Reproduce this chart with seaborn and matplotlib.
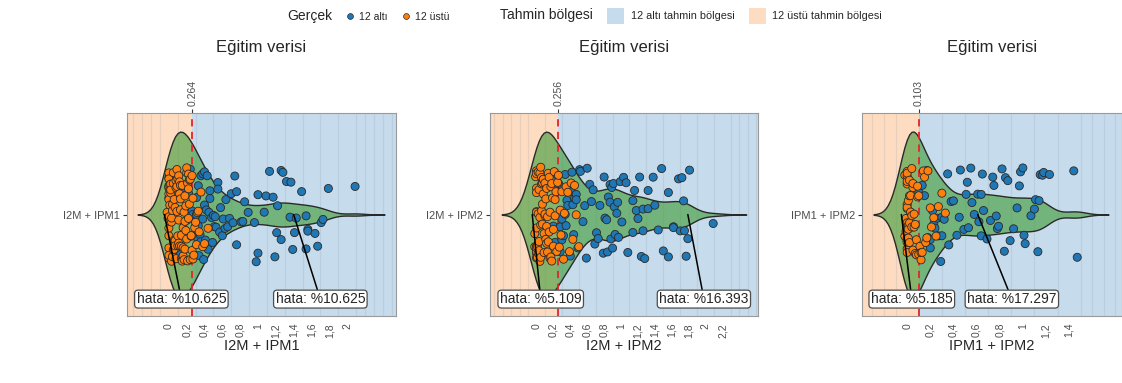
import numpy as np
import pandas as pd
import matplotlib
matplotlib.use("Agg")
import matplotlib.pyplot as plt
import seaborn as sns
from matplotlib.lines import Line2D
from matplotlib.patches import Patch
from matplotlib.ticker import MultipleLocator

sns.set_style("white")
plt.rcParams["font.family"] = ["Liberation Sans", "DejaVu Sans"]

# ---- data -------------------------------------------------------------
features = ["I2M + IPM1", "I2M + IPM2", "IPM1 + IPM2"]
thresholds = [0.264, 0.256, 0.103]
error_left = ["%10.625", "%5.109", "%5.185"]
error_right = ["%10.625", "%16.393", "%17.297"]

blue_1 = [0.13, 0.17, 0.2, 0.22, 0.24, 0.26, 0.27, 0.29, 0.3, 0.31, 0.31, 0.33, 0.33,
          0.34, 0.35, 0.36, 0.36, 0.38, 0.38, 0.39, 0.4, 0.4, 0.41, 0.42, 0.43, 0.44,
          0.45, 0.46, 0.46, 0.48, 0.49, 0.5, 0.51, 0.52, 0.53, 0.55, 0.55, 0.57, 0.58,
          0.6, 0.61, 0.63, 0.64, 0.66, 0.68, 0.7, 0.72, 0.74, 0.76, 0.76, 0.81, 0.83,
          0.85, 0.89, 0.96, 0.98, 1.0, 1.0, 1.07, 1.09, 1.13, 1.17, 1.19, 1.21, 1.22,
          1.26, 1.26, 1.28, 1.32, 1.36, 1.37, 1.39, 1.41, 1.43, 1.49, 1.54, 1.54, 1.56,
          1.56, 1.64, 1.67, 1.71, 1.73, 1.79, 2.09]
orange_1 = [-0.02, -0.01, 0, 0, 0, 0, 0, 0, 0, 0, 0, 0, 0, 0, 0, 0, 0, 0.01, 0.01,
            0.01, 0.02, 0.02, 0.02, 0.03, 0.03, 0.03, 0.04, 0.04, 0.04, 0.05, 0.05,
            0.05, 0.06, 0.06, 0.06, 0.07, 0.07, 0.07, 0.08, 0.08, 0.08, 0.09, 0.09,
            0.09, 0.1, 0.1, 0.1, 0.11, 0.11, 0.11, 0.12, 0.12, 0.12, 0.13, 0.13, 0.13,
            0.14, 0.14, 0.14, 0.15, 0.15, 0.15, 0.16, 0.16, 0.16, 0.17, 0.17, 0.18,
            0.18, 0.18, 0.19, 0.19, 0.2, 0.2, 0.2, 0.21, 0.21, 0.22, 0.22, 0.22, 0.23,
            0.23, 0.24, 0.24, 0.25, 0.25, 0.26, 0.26, 0.27, 0.27, 0.28, 0.29, 0.3,
            0.31, 0.32, 0.33, 0.34, 0.36, 0.38, 0.4, 0.44]

blue_2 = [0.2, 0.22, 0.24, 0.26, 0.28, 0.28, 0.3, 0.3, 0.32, 0.34, 0.34, 0.35, 0.36,
          0.37, 0.38, 0.4, 0.41, 0.42, 0.43, 0.44, 0.45, 0.47, 0.47, 0.49, 0.51, 0.52,
          0.55, 0.57, 0.59, 0.6, 0.63, 0.65, 0.67, 0.69, 0.71, 0.73, 0.75, 0.79, 0.8,
          0.81, 0.83, 0.84, 0.85, 0.87, 0.87, 0.88, 0.89, 0.9, 0.91, 0.92, 0.93, 0.95,
          0.96, 0.97, 0.99, 1.01, 1.03, 1.06, 1.08, 1.14, 1.14, 1.16, 1.18, 1.2, 1.22,
          1.24, 1.26, 1.26, 1.28, 1.32, 1.32, 1.38, 1.4, 1.44, 1.48, 1.5, 1.56, 1.56,
          1.62, 1.62, 1.68, 1.7, 1.72, 1.74, 1.75, 1.77, 1.79, 1.81, 2.09]
orange_2 = [-0.02, -0.02, -0.01, 0, 0, 0, 0, 0, 0, 0, 0, 0, 0, 0, 0, 0, 0.01, 0.01,
            0.01, 0.02, 0.02, 0.02, 0.03, 0.03, 0.03, 0.04, 0.04, 0.04, 0.05, 0.05,
            0.05, 0.06, 0.06, 0.06, 0.07, 0.07, 0.07, 0.08, 0.08, 0.08, 0.09, 0.09,
            0.1, 0.1, 0.1, 0.11, 0.11, 0.12, 0.12, 0.12, 0.13, 0.13, 0.14, 0.14, 0.15,
            0.15, 0.16, 0.16, 0.17, 0.17, 0.18, 0.18, 0.19, 0.2, 0.2, 0.21, 0.22,
            0.22, 0.23, 0.24, 0.25, 0.26, 0.27, 0.28, 0.29, 0.3, 0.32, 0.33, 0.35,
            0.37, 0.39, 0.41, 0.43, 0.45, 0.47, 0.5]

blue_3 = [0.1, 0.13, 0.15, 0.17, 0.18, 0.2, 0.2, 0.22, 0.23, 0.24, 0.26, 0.27, 0.29,
          0.3, 0.3, 0.32, 0.35, 0.36, 0.38, 0.4, 0.43, 0.45, 0.46, 0.49, 0.51, 0.52,
          0.53, 0.55, 0.56, 0.58, 0.61, 0.62, 0.64, 0.64, 0.65, 0.66, 0.69, 0.72, 0.74,
          0.75, 0.77, 0.78, 0.79, 0.82, 0.84, 0.85, 0.87, 0.89, 0.92, 0.95, 0.97, 0.98,
          1.0, 1.01, 1.02, 1.07, 1.1, 1.11, 1.13, 1.14, 1.15, 1.17, 1.18, 1.23, 1.44,
          1.47]
orange_3 = [-0.02, -0.02, -0.01, -0.01, 0, 0, 0, 0, 0, 0, 0, 0, 0, 0, 0, 0, 0, 0, 0,
            0, 0, 0, 0.01, 0.01, 0.01, 0.01, 0.02, 0.02, 0.02, 0.02, 0.03, 0.03, 0.03,
            0.04, 0.04, 0.04, 0.05, 0.05, 0.05, 0.06, 0.06, 0.07, 0.07, 0.08, 0.08,
            0.09, 0.09, 0.1, 0.1, 0.11, 0.12, 0.12, 0.13, 0.14, 0.15, 0.16, 0.17,
            0.18, 0.2, 0.21, 0.23, 0.25, 0.27, 0.3, 0.33]

xticks_1 = [0, 0.2, 0.4, 0.6, 0.8, 1, 1.2, 1.4, 1.6, 1.8, 2]
xticks_2 = [0, 0.2, 0.4, 0.6, 0.8, 1, 1.2, 1.4, 1.6, 1.8, 2, 2.2]
xticks_3 = [0, 0.2, 0.4, 0.6, 0.8, 1, 1.2, 1.4]

blues = [blue_1, blue_2, blue_3]
oranges = [orange_1, orange_2, orange_3]
xticks = [xticks_1, xticks_2, xticks_3]

# ---- styling / layout -------------------------------------------------
BLUE = "#1F77B4"
ORANGE = "#FF7F0E"
BG_BLUE = "#C6DBEC"
BG_PEACH = "#FDDCC2"
GREEN = (72 / 255, 160 / 255, 66 / 255)

panel_rects = [(0.1132, 0.1749, 0.2398, 0.530),
               (0.4367, 0.1749, 0.2389, 0.530),
               (0.7683, 0.1749, 0.2317, 0.530)]
xlims = [(-0.47, 2.55), (-0.55, 2.62), (-0.39, 1.857)]
kde_bw = [0.11, 0.13, 0.09]
# (anchor x on violin, label x) for the left and right error labels
label_pos = [((-0.05, 0.14), (1.40, 1.70)),
             ((-0.05, 0.05), (1.79, 1.98)),
             ((-0.05, 0.04), (0.61, 0.905))]


def comma(v):
    return f"{v:g}".replace(".", ",")


def title_to_left(leg):
    box = leg._legend_box
    title_box, cols = box.get_children()
    box._children = [cols]
    cols._children = [title_box] + cols.get_children()


fig = plt.figure(figsize=(11.22, 3.83), dpi=100)
np.random.seed(7)

for i in range(3):
    blue, orange = blues[i], oranges[i]
    thr = thresholds[i]
    feat = features[i]
    df = pd.DataFrame({
        "value": blue + orange,
        "Gerçek": ["12 altı"] * len(blue) + ["12 üstü"] * len(orange),
        "feature": feat,
    })
    ax = fig.add_axes(panel_rects[i])
    lo, hi = xlims[i]

    # prediction regions
    ax.axvspan(lo, thr, color=BG_PEACH, lw=0, zorder=0)
    ax.axvspan(thr, hi, color=BG_BLUE, lw=0, zorder=0)

    # density of all observations
    allx = np.asarray(df["value"], dtype=float)
    sns.violinplot(data=df, x="value", y="feature", orient="h", ax=ax,
                   color=GREEN, saturation=1, inner=None, cut=3,
                   bw_method=kde_bw[i] / np.std(allx, ddof=1), width=0.98,
                   linewidth=1.0, linecolor="#2a2a2a")
    for coll in ax.collections:
        coll.set_facecolor(GREEN + (0.66,))
        coll.set_zorder(1)

    ax.axvline(thr, color="#E3242B", ls=(0, (4, 3)), lw=1.3, zorder=2)

    sns.stripplot(data=df, x="value", y="feature", hue="Gerçek",
                  hue_order=["12 altı", "12 üstü"],
                  palette={"12 altı": BLUE, "12 üstü": ORANGE},
                  orient="h", jitter=0.28, size=5.8, linewidth=0.6,
                  edgecolor="#2a2a2a", ax=ax, legend=False, zorder=3)

    ax.set_xlim(lo, hi)
    ax.set_ylim(-0.6, 0.6)

    # grid
    ax.xaxis.set_minor_locator(MultipleLocator(0.1))
    ax.grid(which="minor", axis="x", color="#7f8f9c", alpha=0.16, lw=0.9)
    ax.grid(which="major", axis="y", visible=False)
    ax.set_axisbelow(True)

    ax.set_xticks(xticks[i])
    ax.set_xticklabels([comma(v) for v in xticks[i]], rotation=90)
    ax.tick_params(axis="x", which="major", length=3, width=0.8, color="#333333",
                   labelsize=7.5, labelcolor="#4d4d4d", pad=2)
    ax.tick_params(axis="x", which="minor", length=0)
    ax.tick_params(axis="y", length=3, width=0.8, color="#333333", labelsize=8,
                   labelcolor="#4d4d4d", pad=2, left=True)
    ax.set_ylabel("")
    ax.set_xlabel(feat, fontsize=10.5, labelpad=1)
    for s in ax.spines.values():
        s.set_color("#9a9a9a")
        s.set_linewidth(0.8)

    # threshold value on top
    sec = ax.secondary_xaxis("top")
    sec.set_xticks([thr])
    sec.set_xticklabels([f"{thr:.3f}"], rotation=90)
    sec.tick_params(length=3, width=0.8, color="#333333", labelsize=7.5,
                    labelcolor="#4d4d4d", pad=2)
    for s in sec.spines.values():
        s.set_visible(False)

    ax.text(0.5, 1.325, "Eğitim verisi", transform=ax.transAxes,
            ha="center", va="center", fontsize=12)

    # error labels
    for (ax_x, lab_x), txt in zip(label_pos[i], [error_left[i], error_right[i]]):
        ax.annotate("hata: " + txt, xy=(ax_x, 0), xytext=(lab_x, -0.5),
                    ha="center", va="center", fontsize=10, zorder=6,
                    bbox=dict(boxstyle="round,pad=0.14,rounding_size=0.25",
                              fc="white", ec="#4d4d4d", lw=0.9),
                    arrowprops=dict(arrowstyle="-", color="black", lw=1.1,
                                    shrinkA=0, shrinkB=0))

# legends
h_true = [Line2D([], [], ls="", marker="o", markersize=4.2, markerfacecolor=c,
                 markeredgecolor="#2a2a2a", markeredgewidth=0.5) for c in (BLUE, ORANGE)]
leg1 = fig.legend(h_true, ["12 altı", "12 üstü"], title="Gerçek", ncol=2,
                  loc="center left", bbox_to_anchor=(287 / 1122, 1 - 16 / 383),
                  frameon=False, fontsize=7.5, title_fontsize=10, handlelength=1.0,
                  handletextpad=0.4, columnspacing=1.2, borderpad=0, borderaxespad=0)
title_to_left(leg1)
h_reg = [Patch(facecolor=BG_BLUE, edgecolor="none"),
         Patch(facecolor=BG_PEACH, edgecolor="none")]
leg2 = fig.legend(h_reg, ["12 altı tahmin bölgesi", "12 üstü tahmin bölgesi"],
                  title="Tahmin bölgesi", ncol=2, loc="center left",
                  bbox_to_anchor=(500 / 1122, 1 - 16 / 383), frameon=False,
                  fontsize=7.8, title_fontsize=10, handlelength=1.6, handleheight=1.9,
                  handletextpad=0.6, columnspacing=1.3, borderpad=0, borderaxespad=0)
title_to_left(leg2)

fig.savefig("out.png", dpi=100)
